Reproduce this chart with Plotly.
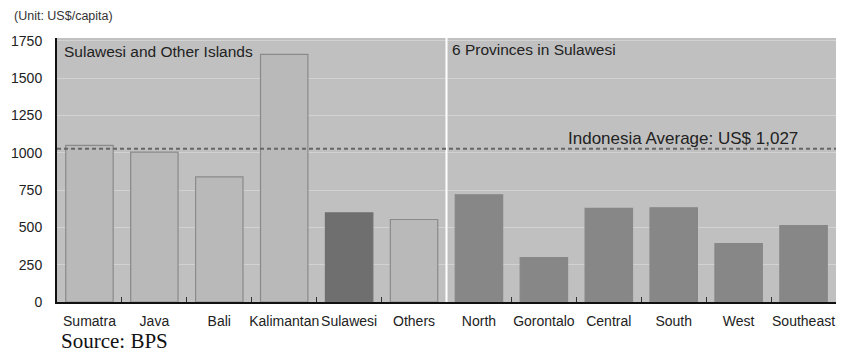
import plotly.graph_objects as go

categories = ["Sumatra", "Java", "Bali", "Kalimantan", "Sulawesi", "Others",
              "North", "Gorontalo", "Central", "South", "West", "Southeast"]
values = [1050, 1005, 839, 1660, 597, 553, 719, 298, 628, 632, 391, 513]
average = 1027
y_ticks = [0, 250, 500, 750, 1000, 1250, 1500, 1750]

fill_colors = ["#b9b9b9"] * 4 + ["#6f6f6f", "#b9b9b9"] + ["#878787"] * 6
line_colors = ["#8a8a8a"] * 4 + ["#6f6f6f", "#8a8a8a"] + ["#878787"] * 6

fig = go.Figure()
fig.add_trace(go.Bar(
    x=categories, y=values,
    marker=dict(color=fill_colors, line=dict(color=line_colors, width=1.2)),
    width=0.73, hoverinfo="x+y",
))

font = "Liberation Sans, Arial, sans-serif"

fig.update_layout(
    width=846, height=355,
    margin=dict(l=57, r=10, t=38, b=53),
    paper_bgcolor="white",
    plot_bgcolor="#c0c0c0",
    showlegend=False,
    font=dict(family=font, size=14, color="#222"),
    xaxis=dict(
        type="category", range=[-0.5, 11.5], tickangle=0, automargin=False,
        showline=True, linecolor="#111", linewidth=2,
        ticks="inside", tickson="boundaries", ticklen=5, tickcolor="#333",
        tickfont=dict(size=14, color="#222"), showgrid=False, ticklabelstandoff=5,
    ),
    yaxis=dict(
        range=[0, 1770], tickvals=y_ticks, automargin=False,
        showline=True, linecolor="#111", linewidth=2,
        gridcolor="#d2d2d2", gridwidth=1, zeroline=False,
        tickfont=dict(size=14, color="#222"), ticks="", ticklabelstandoff=10,
    ),
    shapes=[
        dict(type="line", xref="x", yref="y", x0=5.5, x1=5.5, y0=0, y1=1770,
             line=dict(color="white", width=2)),
        dict(type="line", xref="paper", yref="y", x0=0, x1=1, y0=average, y1=average,
             line=dict(color="#666", width=2, dash="4px,3px")),
    ],
    annotations=[
        dict(text="(Unit: US$/capita)", xref="paper", yref="paper", x=-0.0578, y=1.083,
             xanchor="left", yanchor="middle", showarrow=False,
             font=dict(size=12.5, color="#333")),
        dict(text="Sulawesi and Other Islands", xref="paper", yref="paper", x=0.007, y=0.947,
             xanchor="left", yanchor="middle", showarrow=False, font=dict(size=15.5, color="#222")),
        dict(text="6 Provinces in Sulawesi", xref="x", yref="paper", x=5.55, y=0.955,
             xanchor="left", yanchor="middle", showarrow=False, font=dict(size=15.5, color="#222")),
        dict(text="Indonesia Average: US$ 1,027", xref="paper", yref="y", x=0.954, y=1098,
             xanchor="right", yanchor="middle", showarrow=False,
             font=dict(size=17, color="#222")),
        dict(text="Source: BPS", xref="paper", yref="paper", x=0.003, y=-0.148,
             xanchor="left", yanchor="middle", showarrow=False,
             font=dict(family="Liberation Serif, Times New Roman, serif", size=21, color="#111")),
    ],
)

fig.write_html("out.html")
